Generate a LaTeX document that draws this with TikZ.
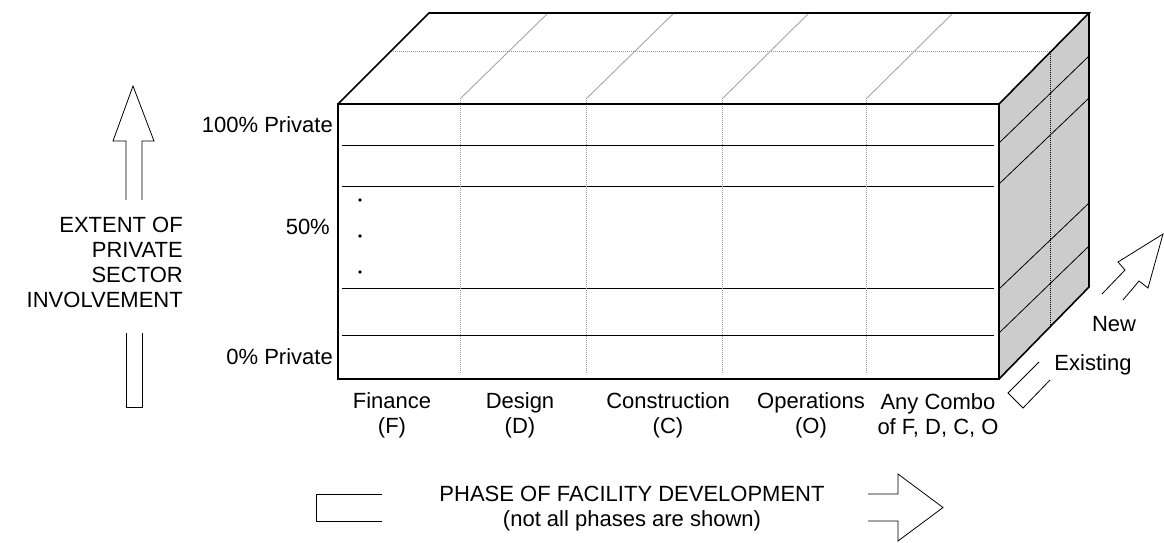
\documentclass[tikz,border=0pt]{standalone}
\usepackage{fontspec}
\setmainfont{Liberation Sans}
\begin{document}
\begin{tikzpicture}[x=1pt,y=-1pt,
  boxedge/.style={line width=1.6pt, line join=miter},
  rowline/.style={line width=0.8pt},
  colline/.style={black!40, line width=1pt, densely dotted},
  sidedot/.style={black, line width=1pt, densely dotted},
  topline/.style={black!35, line width=0.9pt},
  hollow/.style={line width=0.8pt, line join=miter},
  lbl/.style={inner sep=0pt, font=\fontsize{22}{25}\selectfont},
  dotmark/.style={fill=black}]
\useasboundingbox (0,0) rectangle (1164,542);
% side face
\fill[gray!40] (999,104) -- (1089,13) -- (1089,287) -- (999,379) -- cycle;
\draw[rowline] (999,143) -- (1089,56);
\draw[rowline] (999,184) -- (1089,98);
\draw[rowline] (999,289) -- (1089,203);
\draw[rowline] (999,333) -- (1089,246);
\draw[sidedot] (1050,52) -- (1050,327);
% top face middle line
\draw[colline] (393,51) -- (1050,51);
% front face rows
\foreach \y in {145,186,288,335} \draw[rowline] (342,\y) -- (994,\y);
% columns and top diagonals
\foreach \x/\xt in {460/548,586/674,722/809,866/953}{
  \draw[colline] (\x,373) -- (\x,99);
  \draw[topline] (\x,99) -- (\xt,13);
}
% outlines
\draw[boxedge] (338,104) rectangle (999,379);
\draw[boxedge] (338,104) -- (429,13) -- (1089,13) -- (999,104);
\draw[boxedge] (1089,13) -- (1089,287) -- (999,379);
% dots
\foreach \y in {200,236,272} \fill[dotmark] (360,\y) circle (1.8);
% left labels
\node[lbl, anchor=base east] (p100) at (333,132) {100\% Private};
\node[lbl, anchor=base east] (p50) at (330,234) {50\%};
\node[lbl, anchor=base east] (p0) at (333,364) {0\% Private};
% vertical hollow arrow
\draw[hollow] (126,200) -- (126,141) -- (113,141) -- (133,86) -- (154,141) -- (142,141) -- (142,200);
\draw[hollow] (126,333) -- (126,407) -- (142,407) -- (142,333);
\node[lbl, anchor=east, align=right] (extent) at (183,262.5) {EXTENT OF\\PRIVATE\\SECTOR\\INVOLVEMENT};
% column labels
\node[lbl, align=center] (fin) at (392,415) {Finance\\(F)};
\node[lbl, align=center] (des) at (520,415) {Design\\(D)};
\node[lbl, align=center] (con) at (668,415) {Construction\\(C)};
\node[lbl, align=center] (ope) at (811,415) {Operations\\(O)};
\node[lbl, align=center] (any) at (938,415) {Any Combo\\of F, D, C, O};
% horizontal hollow arrow
\draw[hollow] (382,494) -- (316,494) -- (316,521) -- (382,521);
\draw[hollow] (868,494) -- (898,494) -- (898,474) -- (943,507.5) -- (898,541) -- (898,521) -- (868,521);
\node[lbl, align=center] (phase) at (632,509) {PHASE OF FACILITY DEVELOPMENT\\(not all phases are shown)};
% depth arrow
\draw[hollow] (1102,294) -- (1125,270) -- (1118,262) -- (1163,234) -- (1148,288) -- (1139,281) -- (1123,300);
\draw[hollow] (1039,362) -- (1008,393) -- (1023,408) -- (1050,380);
\node[lbl, anchor=base] (new) at (1114,331) {New};
\node[lbl, anchor=base] (exist) at (1093,370) {Existing};
\end{tikzpicture}
\end{document}
